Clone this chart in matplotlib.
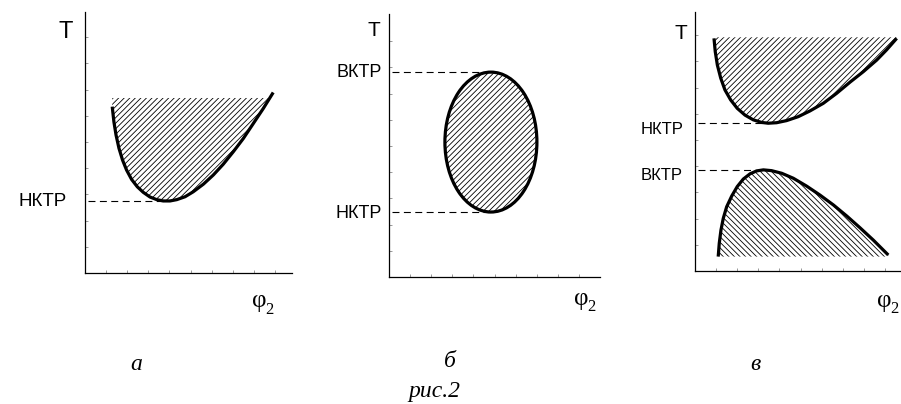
import matplotlib
matplotlib.use("Agg")
import matplotlib.pyplot as plt
import numpy as np
from matplotlib.patches import Ellipse

plt.rcParams['font.family'] = ['Liberation Sans', 'DejaVu Sans']
plt.rcParams['hatch.linewidth'] = 0.6
plt.rcParams['lines.scale_dashes'] = False

# ---------------- data (arbitrary units: phi2 on x, T on y) ----------------
# panel a: lower critical solution temperature (НКТР)
a_x = [1.29, 1.37, 1.47, 1.61, 1.78, 1.97, 2.21, 2.48, 2.76, 3.08, 3.40, 3.71,
       4.03, 4.35, 4.74, 5.13, 5.61, 6.08, 6.55, 7.03, 7.50, 7.98, 8.45, 8.92]
a_y = [6.35, 5.77, 5.27, 4.76, 4.31, 3.93, 3.57, 3.29, 3.08, 2.90, 2.80, 2.75,
       2.75, 2.80, 2.91, 3.10, 3.39, 3.74, 4.15, 4.63, 5.13, 5.71, 6.28, 6.89]
a_hatch_top = 6.68
a_nktr = 2.75
a_nktr_x = 3.71

# panel б: closed miscibility loop
b_center = (4.83, 5.15)
b_width = 4.36
b_height = 5.34
b_vktr = 7.82
b_nktr = 2.48

# panel в: upper branch (НКТР) and lower branch (ВКТР)
v_up_x = [0.90, 0.96, 1.06, 1.22, 1.42, 1.69, 2.00, 2.37, 2.76, 3.16, 3.47, 3.87,
          4.34, 4.89, 5.45, 6.08, 6.71, 7.35, 7.98, 8.61, 9.08, 9.56]
v_up_y = [8.88, 8.37, 7.86, 7.36, 6.91, 6.53, 6.21, 5.95, 5.77, 5.67, 5.64, 5.66,
          5.74, 5.89, 6.11, 6.40, 6.78, 7.21, 7.61, 8.05, 8.44, 8.88]
v_up_top = 8.92
v_nktr = 5.64
v_nktr_x = 3.47

v_lo_x = [1.10, 1.15, 1.23, 1.34, 1.50, 1.74, 2.00, 2.29, 2.61, 2.92, 3.24, 3.63,
          4.11, 4.66, 5.29, 5.92, 6.56, 7.19, 7.82, 8.45, 9.16]
v_lo_y = [0.55, 1.06, 1.56, 2.01, 2.45, 2.86, 3.22, 3.51, 3.71, 3.82, 3.86, 3.83,
          3.73, 3.54, 3.24, 2.90, 2.52, 2.10, 1.65, 1.18, 0.61]
v_lo_bottom = 0.55
v_vktr = 3.86
v_vktr_x = 3.24

dash_start = 0.12
panel_letters = ['а', 'б', 'в']
caption = 'рис.2'

# ---------------- layout ----------------
W, H = 901, 404
fig = plt.figure(figsize=(W / 100, H / 100), dpi=100)
fig.patch.set_facecolor('white')

XU, YU = 21.1, 26.2  # pixels per unit


def make_ax(x0, ytop, x1, ybot):
    ax = fig.add_axes([x0 / W, (H - ybot) / H, (x1 - x0) / W, (ybot - ytop) / H])
    xmax = (x1 - x0) / XU
    ymax = (ybot - ytop) / YU
    ax.set_xlim(0, xmax)
    ax.set_ylim(0, ymax)
    for s in ['top', 'right']:
        ax.spines[s].set_visible(False)
    for s in ['left', 'bottom']:
        ax.spines[s].set_linewidth(0.9)
        ax.spines[s].set_color('black')
    ax.set_xticks([t for t in range(1, 11) if t < xmax - 0.3])
    ax.set_yticks([t for t in range(1, 11) if t < ymax - 0.3])
    ax.tick_params(direction='in', length=2.5, width=0.6, color='#888888',
                   labelleft=False, labelbottom=False)
    ax.patch.set_alpha(0)
    return ax


CURVE_LW = 2.3
DASH = dict(color='black', lw=0.8, linestyle=(0, (5.0, 3.2)))
HATCH_F = '//////'
HATCH_B = '\\\\\\\\\\\\'


def level_label(ax, text, level, dx_px, dy_px, size):
    ax.annotate(text, xy=(0, level), xycoords=('axes fraction', 'data'),
                xytext=(-dx_px * 0.72, -dy_px * 0.72), textcoords='offset points',
                ha='right', va='baseline', fontsize=size)


def ftext(x, y, s, **kw):
    fig.text(x / W, 1 - y / H, s, **kw)


def phi_label(left, top):
    serif = dict(family='Liberation Serif')
    ftext(left + 6, top + 8.5, 'φ', fontsize=18, ha='center', va='center', **serif)
    ftext(left + 12.5, top + 21, '2', fontsize=12, ha='left', va='baseline', **serif)


# panel a
axa = make_ax(85, 12, 292, 273)
axa.fill_between(a_x, a_y, a_hatch_top, where=np.array(a_y) <= a_hatch_top,
                 interpolate=True, facecolor='none', edgecolor='black',
                 linewidth=0, hatch=HATCH_F, zorder=1)
axa.plot(a_x, a_y, color='black', lw=CURVE_LW, solid_capstyle='butt', zorder=3)
axa.plot([dash_start, a_nktr_x], [a_nktr, a_nktr], **DASH)
level_label(axa, 'НКТР', a_nktr, 18, 5.4, 13.5)

# panel б
axb = make_ax(389, 14, 600, 277)
axb.add_patch(Ellipse(b_center, b_width, b_height, facecolor='none',
                      edgecolor='black', lw=CURVE_LW, hatch=HATCH_F, zorder=3))
axb.plot([dash_start, b_center[0]], [b_vktr, b_vktr], **DASH)
axb.plot([dash_start, b_center[0]], [b_nktr, b_nktr], **DASH)
level_label(axb, 'ВКТР', b_vktr, 7, 5.3, 13)
level_label(axb, 'НКТР', b_nktr, 7, 6.3, 13)

# panel в
axv = make_ax(695, 12, 901, 271)
axv.fill_between(v_up_x, v_up_y, v_up_top, where=np.array(v_up_y) <= v_up_top,
                 interpolate=True, facecolor='none', edgecolor='black',
                 linewidth=0, hatch=HATCH_F, zorder=1)
axv.plot(v_up_x, v_up_y, color='black', lw=CURVE_LW, solid_capstyle='butt', zorder=3)
axv.fill_between(v_lo_x, v_lo_bottom, v_lo_y, where=np.array(v_lo_y) >= v_lo_bottom,
                 interpolate=True, facecolor='none', edgecolor='black',
                 linewidth=0, hatch=HATCH_B, zorder=1)
axv.plot(v_lo_x, v_lo_y, color='black', lw=CURVE_LW, solid_capstyle='butt', zorder=3)
axv.plot([dash_start, v_nktr_x], [v_nktr, v_nktr], **DASH)
axv.plot([dash_start, v_vktr_x], [v_vktr, v_vktr], **DASH)
level_label(axv, 'НКТР', v_nktr, 12, 11, 12)
level_label(axv, 'ВКТР', v_vktr, 12, 10, 12)

# axis labels
ftext(66, 38, 'T', fontsize=17, ha='center', va='baseline')
ftext(374, 36, 'T', fontsize=15, ha='center', va='baseline')
ftext(681, 39, 'T', fontsize=15, ha='center', va='baseline')
phi_label(253, 293)
phi_label(575, 290)
phi_label(878, 292)

# panel captions
ital = dict(family='Liberation Serif', style='italic', fontsize=17,
            ha='center', va='baseline')
ftext(136, 370, panel_letters[0], **ital)
ftext(450, 367, panel_letters[1], **ital)
ftext(755, 370, panel_letters[2], **ital)
ftext(434, 397, caption, **ital)

fig.savefig('out.png', dpi=100, facecolor='white')
